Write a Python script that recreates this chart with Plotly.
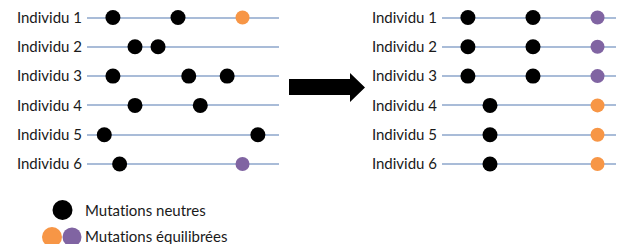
import plotly.graph_objects as go

individus = ["Individu 1", "Individu 2", "Individu 3", "Individu 4", "Individu 5", "Individu 6"]
rangs = [1, 2, 3, 4, 5, 6]

# Avant : positions des mutations le long du chromosome (0-100)
avant_neutres = [[13.5, 47.4], [25, 37], [13.5, 53, 73], [25, 59], [9, 89], [17]]
avant_equil_rang = [1, 6]
avant_equil_pos = [81, 81]
avant_equil_couleur = ["orange", "violet"]

# Après
apres_neutres = [[13.5, 47.4], [13.5, 47.4], [13.5, 47.4], [25], [25], [25]]
apres_equil_rang = [1, 2, 3, 4, 5, 6]
apres_equil_pos = [81, 81, 81, 81, 81, 81]
apres_equil_couleur = ["violet", "violet", "violet", "orange", "orange", "orange"]

legende = ["Mutations neutres", "Mutations équilibrées"]

COUL = {"orange": "#F79646", "violet": "#8064A2", "noir": "#000000"}
FONT = "Lato"
OFF = 8  # page margin of the browser body
W, H = 624 - OFF, 244 - OFF

fig = go.Figure()

def add_panel(neutres, eq_rang, eq_pos, eq_coul, xa, ya):
    xs, ys = [], []
    for r, pos in zip(rangs, neutres):
        for p in pos:
            xs.append(p)
            ys.append(r)
    fig.add_trace(go.Scatter(x=xs, y=ys, mode="markers", xaxis=xa, yaxis=ya,
                             marker=dict(color=COUL["noir"], size=15, line=dict(width=0)),
                             showlegend=False, hoverinfo="skip"))
    fig.add_trace(go.Scatter(x=eq_pos, y=eq_rang, mode="markers", xaxis=xa, yaxis=ya,
                             marker=dict(color=[COUL[c] for c in eq_coul], size=14, line=dict(width=0)),
                             showlegend=False, hoverinfo="skip"))

add_panel(avant_neutres, avant_equil_rang, avant_equil_pos, avant_equil_couleur, "x", "y")
add_panel(apres_neutres, apres_equil_rang, apres_equil_pos, apres_equil_couleur, "x2", "y2")

px_unit = 1.92
row1_px, row_step = 17.5 - OFF, 29.3
yrange = [1 + (H - row1_px) / row_step, 1 - row1_px / row_step]
yax = dict(range=yrange, tickvals=rangs, ticktext=individus, showgrid=True,
           gridcolor="#A9BCD8", gridwidth=1.5, zeroline=False, showline=False,
           ticks="", tickfont=dict(family=FONT, size=15, color="#1a1a1a"),
           ticklabelstandoff=4, ticklabeloverflow="allow")
xax = dict(showgrid=False, zeroline=False, showline=False, showticklabels=False, ticks="")

fig.update_layout(
    width=W, height=H, margin=dict(l=0, r=0, t=0, b=0),
    paper_bgcolor="white", plot_bgcolor="white",
    xaxis=dict(domain=[(87 - OFF) / W, (279 - OFF) / W], range=[0, 192 / px_unit], **xax),
    yaxis=dict(anchor="x", domain=[0, 1], **yax),
    xaxis2=dict(domain=[(442 - OFF) / W, 1], range=[0, (624 - 442) / px_unit], **xax),
    yaxis2=dict(anchor="x2", domain=[0, 1], **yax),
)

def px(x): return (x - OFF) / W
def py(y): return 1 - (y - OFF) / H

# Flèche
arrow = (f"M {px(289)} {py(79)} L {px(350)} {py(79)} L {px(350)} {py(73)} "
         f"L {px(365)} {py(87.5)} L {px(350)} {py(102)} L {px(350)} {py(95)} "
         f"L {px(289)} {py(95)} Z")
fig.add_shape(type="path", path=arrow, xref="paper", yref="paper",
              fillcolor="black", line=dict(width=0))

# Légende
def circle(cx, cy, r, color):
    fig.add_shape(type="circle", xref="paper", yref="paper",
                  x0=px(cx - r), x1=px(cx + r), y0=py(cy + r), y1=py(cy - r),
                  fillcolor=color, line=dict(width=0))

circle(62.5, 210, 10, COUL["noir"])
circle(52, 237, 10, COUL["orange"])
circle(72, 237, 9.5, COUL["violet"])

for txt, y in zip(legende, [210, 235.5]):
    fig.add_annotation(text=f'<span style="font-variant-ligatures:none">{txt}</span>',
                       x=px(83), y=py(y), xref="paper", yref="paper",
                       xanchor="left", yanchor="middle", showarrow=False,
                       font=dict(family=FONT, size=15, color="#1a1a1a"))

fig.write_html("out.html")
